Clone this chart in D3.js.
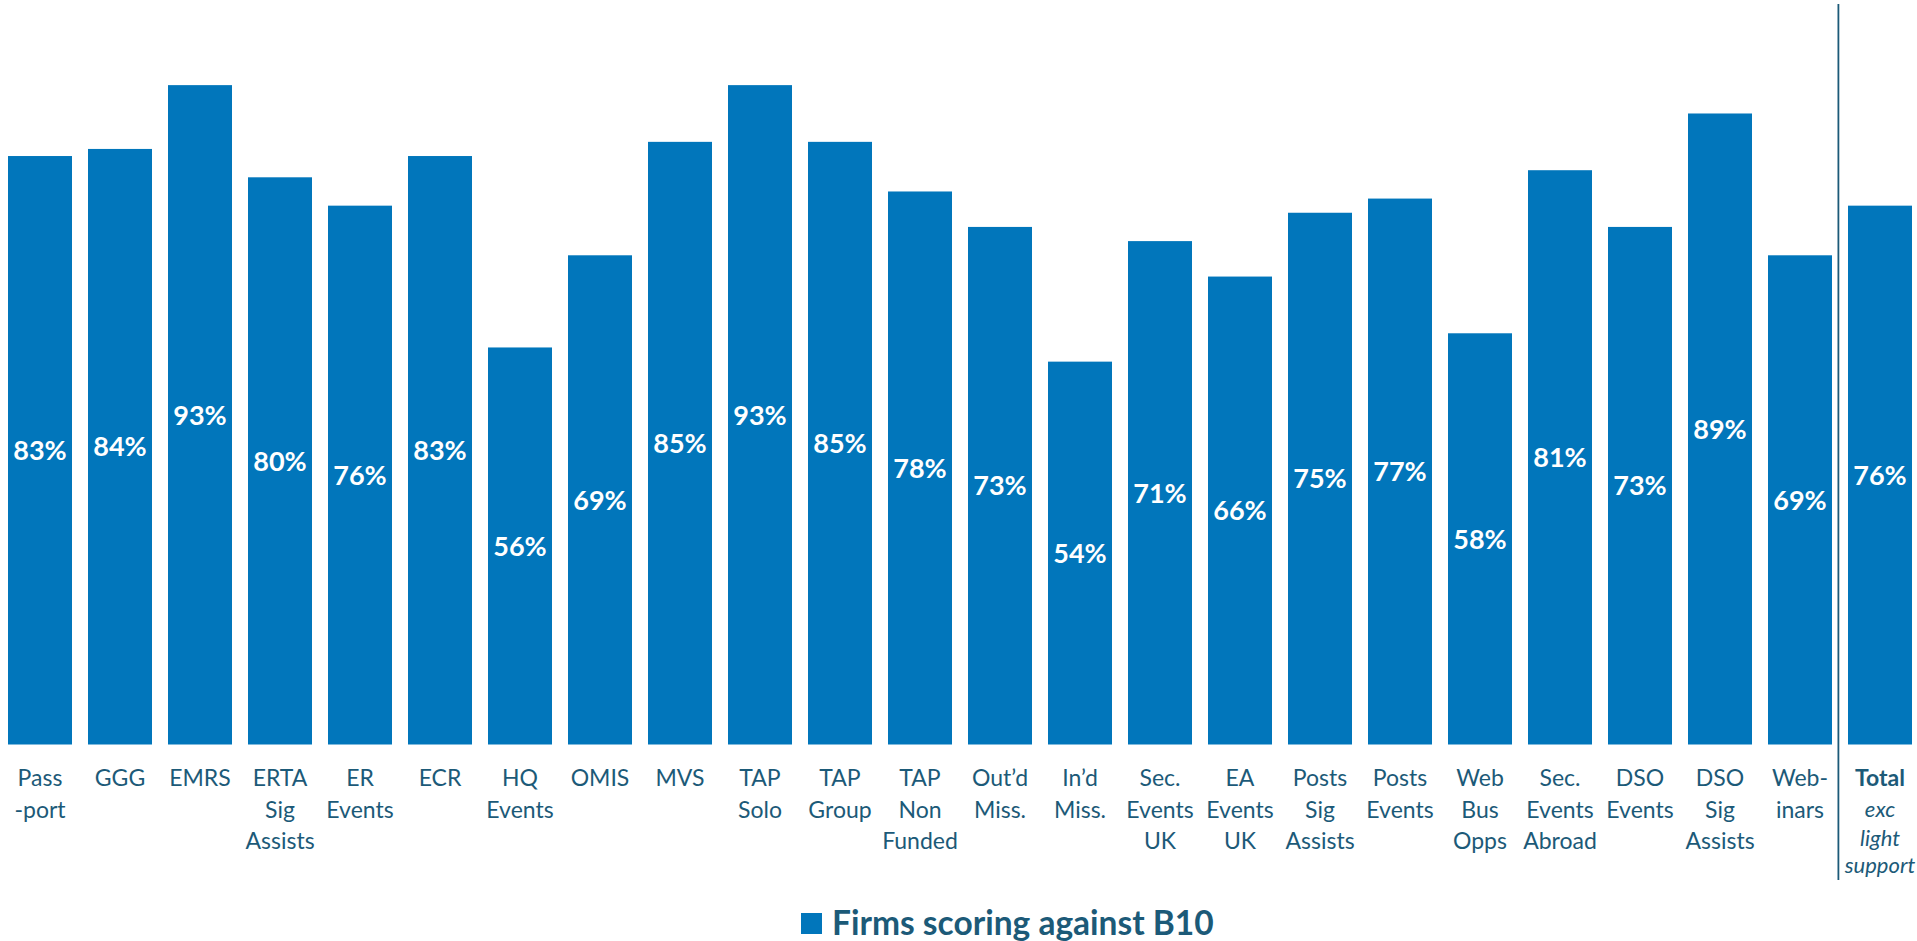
<!DOCTYPE html>
<html>
<head>
<meta charset="utf-8">
<script src="https://cdn.jsdelivr.net/npm/d3@7"></script>
<style>
  html, body { margin: 0; padding: 0; background: #ffffff; }
  svg { display: block; }
</style>
</head>
<body>
<svg id="chart" width="1917" height="941"></svg>
<script>
// Category labels (one entry per line of the wrapped label)
const categories = [
  ["Pass", "-port"], ["GGG"], ["EMRS"], ["ERTA", "Sig", "Assists"], ["ER", "Events"],
  ["ECR"], ["HQ", "Events"], ["OMIS"], ["MVS"], ["TAP", "Solo"], ["TAP", "Group"],
  ["TAP", "Non", "Funded"], ["Out\u2019d", "Miss."], ["In\u2019d", "Miss."],
  ["Sec.", "Events", "UK"], ["EA", "Events", "UK"], ["Posts", "Sig", "Assists"],
  ["Posts", "Events"], ["Web", "Bus", "Opps"], ["Sec.", "Events", "Abroad"],
  ["DSO", "Events"], ["DSO", "Sig", "Assists"], ["Web-", "inars"],
  ["Total", "exc", "light", "support"]
];
// Share of firms scoring against B10 (%)
const values = [83, 84, 93, 80, 76, 83, 56, 69, 85, 93, 85, 78, 73, 54, 71, 66, 75, 77, 58, 81, 73, 89, 69, 76];
const seriesName = "Firms scoring against B10";
const yDomain = [0, 100];

const BAR = "#0176bb";
const INK = "#1c5a78";

const keys = categories.map(c => c.join(" "));
const data = keys.map((k, i) => ({ key: k, lines: categories[i], value: values[i] }));
const totalKey = keys[keys.length - 1];

const svg = d3.select("#chart");

const x = d3.scaleBand()
  .domain(keys)
  .range([0, 1920])
  .paddingInner(0.2)
  .paddingOuter(0.1);

const y = d3.scaleLinear()
  .domain(yDomain)
  .range([744.5, 35.5]);

// Bars
svg.append("g")
  .selectAll("rect")
  .data(data)
  .join("rect")
  .attr("x", d => x(d.key))
  .attr("y", d => y(d.value))
  .attr("width", x.bandwidth())
  .attr("height", d => y(0) - y(d.value))
  .attr("fill", BAR);

// Value labels, centred vertically in each bar
svg.append("g")
  .selectAll("text")
  .data(data)
  .join("text")
  .attr("x", d => x(d.key) + x.bandwidth() / 2)
  .attr("y", d => (y(d.value) + y(0)) / 2)
  .attr("dy", "0.36em")
  .attr("text-anchor", "middle")
  .attr("font-family", "Lato, 'Open Sans', sans-serif")
  .attr("font-weight", 700)
  .attr("font-size", 27)
  .attr("fill", "#ffffff")
  .text(d => d.value + "%");

// Category axis with wrapped labels
const axis = svg.append("g")
  .attr("transform", `translate(0, ${y(0)})`)
  .call(d3.axisBottom(x).tickSize(0).tickPadding(0));
axis.select(".domain").remove();

axis.selectAll(".tick text").each(function (k) {
  const d = data.find(e => e.key === k);
  const t = d3.select(this)
    .text(null)
    .attr("y", 0)
    .attr("dy", null)
    .attr("font-family", "Lato, 'Open Sans', sans-serif")
    .attr("font-size", 23)
    .attr("fill", INK)
    .attr("text-anchor", "middle");
  const isTotal = k === totalKey;
  const offsets = isTotal ? [41.2, 72.5, 101.5, 128] : [41.2, 73.2, 104.8];
  d.lines.forEach((line, i) => {
    const ts = t.append("tspan")
      .attr("x", 0)
      .attr("y", offsets[i])
      .text(line);
    if (isTotal) {
      if (i === 0) ts.attr("font-weight", 700);
      else ts.attr("font-style", "italic").attr("font-size", 22);
    }
  });
});

// Separator before the total bar
const sepX = x(totalKey) - x.step() * 0.12;
svg.append("line")
  .attr("x1", sepX).attr("x2", sepX)
  .attr("y1", 4).attr("y2", 880)
  .attr("stroke", INK)
  .attr("stroke-width", 1.8);

// Legend
const legend = svg.append("g").attr("transform", "translate(801, 913)");
legend.append("rect")
  .attr("width", 21).attr("height", 21)
  .attr("fill", BAR);
legend.append("text")
  .attr("x", 31)
  .attr("y", 21.5)
  .attr("font-family", "Lato, 'Open Sans', sans-serif")
  .attr("font-weight", 700)
  .attr("font-size", 33.5)
  .attr("fill", INK)
  .text(seriesName);
</script>
</body>
</html>
